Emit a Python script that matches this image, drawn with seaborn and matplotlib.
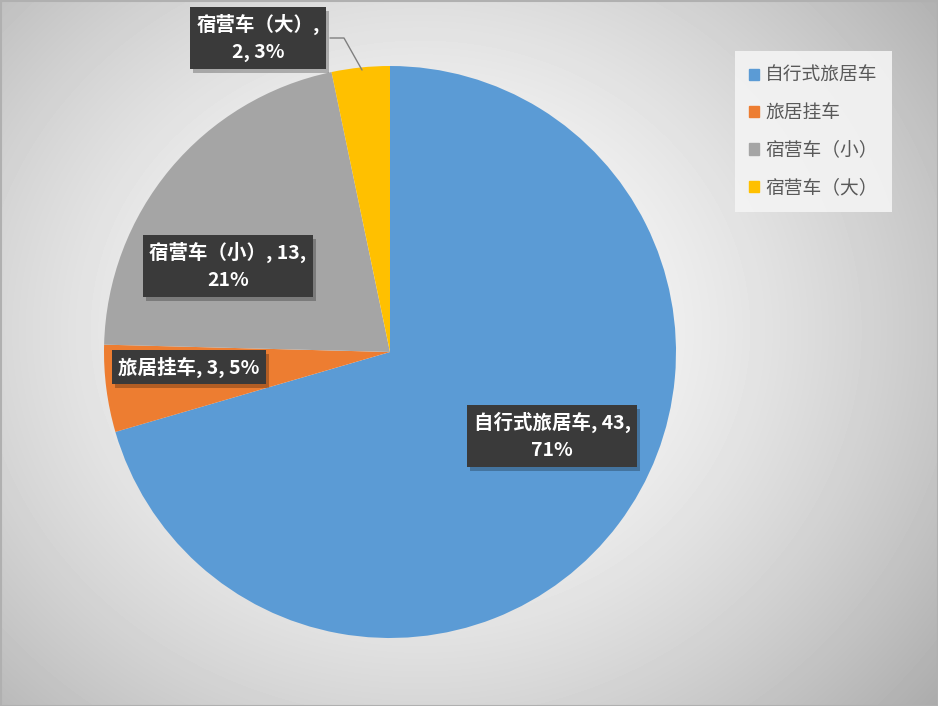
import numpy as np
import matplotlib.pyplot as plt
import seaborn as sns

categories = ['自行式旅居车', '旅居挂车', '宿营车（小）', '宿营车（大）']
counts = [43, 3, 13, 2]
percent_labels = ['71%', '5%', '21%', '3%']
label_texts = ['自行式旅居车, 43,\n71%', '旅居挂车, 3, 5%', '宿营车（小）, 13,\n21%', '宿营车（大）,\n2, 3%']


def main():
    sns.set_style('white')
    plt.rcParams['font.family'] = ['Noto Sans CJK SC', 'DejaVu Sans']

    colors = ['#5B9BD5', '#ED7D31', '#A5A5A5', '#FFC000']

    fig = plt.figure(figsize=(9.38, 7.06), dpi=100)

    # radial gradient background like the Excel chart area
    bg = fig.add_axes([0, 0, 1, 1])
    yy, xx = np.mgrid[0:706, 0:938]
    d = np.sqrt(((xx - 420) / 660.0) ** 2 + ((yy - 330) / 580.0) ** 2)
    shade = np.clip(1.0 - 0.32 * d ** 1.6, 0, 1)
    bg.imshow(shade, cmap='gray', vmin=0, vmax=1, aspect='auto', extent=[0, 938, 706, 0])
    bg.set_xlim(0, 938)
    bg.set_ylim(706, 0)
    bg.axis('off')
    bg.add_patch(plt.Rectangle((0.5, 0.5), 937, 705, fill=False, edgecolor='#b0b0b0', lw=1.5))

    ax = fig.add_axes([104 / 938, 68 / 706, 572 / 938, 572 / 706])
    ax.pie(counts, colors=colors, startangle=90, counterclock=False,
           wedgeprops=dict(linewidth=0))
    ax.set_xlim(-1, 1)
    ax.set_ylim(-1, 1)
    ax.set_aspect('equal')
    ax.axis('off')

    # overlay for data labels
    top = fig.add_axes([0, 0, 1, 1])
    top.set_xlim(0, 938)
    top.set_ylim(706, 0)
    top.axis('off')
    top.patch.set_alpha(0)

    # leader line for the small slice
    top.plot([330, 344, 362], [38, 38, 70], color='#7f7f7f', lw=1)

    pos = [(552, 436), (189, 367), (228, 266), (258, 38)]
    texts = []
    for (px, py), txt in zip(pos, label_texts):
        t = top.text(px, py, txt, ha='center', va='center', fontsize=14, fontweight='bold',
                     color='white', linespacing=1.55, zorder=5,
                     bbox=dict(boxstyle='square,pad=0.33', facecolor='#3a3a3a', edgecolor='none'))
        texts.append(t)

    # drop shadows behind label boxes
    fig.canvas.draw()
    inv = top.transData.inverted()
    for t in texts:
        ext = t.get_bbox_patch().get_window_extent()
        (x0, y0), (x1, y1) = inv.transform([[ext.x0, ext.y0], [ext.x1, ext.y1]])
        top.add_patch(plt.Rectangle((min(x0, x1) + 3, min(y0, y1) + 4), abs(x1 - x0), abs(y1 - y0),
                                    facecolor='black', alpha=0.25, edgecolor='none', zorder=4))

    handles = [plt.Rectangle((0, 0), 1, 1, color=c) for c in colors]
    leg = fig.legend(handles, categories, loc='upper left', bbox_to_anchor=(735 / 938, 1 - 51 / 706),
                     borderaxespad=0, frameon=True, fancybox=False, fontsize=13.5,
                     handlelength=0.55, handleheight=0.55, handletextpad=0.3,
                     labelspacing=0.87, borderpad=0.75, labelcolor='#595959')
    leg.get_frame().set_facecolor('#f4f4f4')
    leg.get_frame().set_edgecolor('none')
    leg.get_frame().set_alpha(0.9)

    fig.savefig('out.png', dpi=100)


if __name__ == '__main__':
    main()
